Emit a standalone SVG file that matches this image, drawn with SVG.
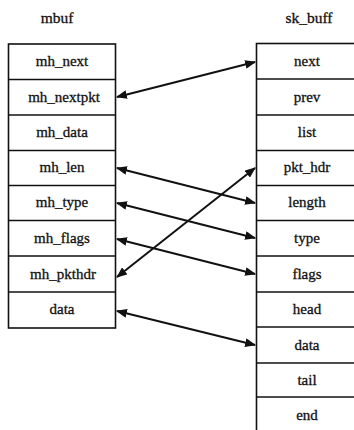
<svg xmlns="http://www.w3.org/2000/svg" width="354" height="430" viewBox="0 0 354 430">
<style>
.box{fill:none;stroke:#111;stroke-width:1.6}
.sep{stroke:#111;stroke-width:1.4}
.t{font-family:"Liberation Serif","Times New Roman",serif;font-size:15px;fill:#111;text-anchor:middle;stroke:#111;stroke-width:0.3}
.h{font-size:15.5px}
.c{stroke:#111;stroke-width:2;fill:none;marker-start:url(#ah);marker-end:url(#ah)}
</style>
<defs>
<marker id="ah" viewBox="0 0 10 8" refX="9" refY="4" markerWidth="5.5" markerHeight="4.4" orient="auto-start-reverse" markerUnits="strokeWidth">
<path d="M0,0 L10,4 L0,8 Z" fill="#111"/>
</marker>
</defs>
<rect width="354" height="430" fill="#fff"/>
<g id="titles">
<text class="t h" x="57" y="23">mbuf</text>
<text class="t h" x="309" y="23">sk_buff</text>
</g>
<g id="mbuf">
<rect class="box" x="8.5" y="44" width="107" height="284"/>
<line class="sep" x1="8.5" y1="79.5" x2="115.5" y2="79.5"/>
<line class="sep" x1="8.5" y1="115" x2="115.5" y2="115"/>
<line class="sep" x1="8.5" y1="150.5" x2="115.5" y2="150.5"/>
<line class="sep" x1="8.5" y1="185.5" x2="115.5" y2="185.5"/>
<line class="sep" x1="8.5" y1="220.5" x2="115.5" y2="220.5"/>
<line class="sep" x1="8.5" y1="256" x2="115.5" y2="256"/>
<line class="sep" x1="8.5" y1="292" x2="115.5" y2="292"/>
<text class="t" x="62" y="66">mh_next</text>
<text class="t" x="64" y="102">mh_nextpkt</text>
<text class="t" x="62" y="137">mh_data</text>
<text class="t" x="62" y="172">mh_len</text>
<text class="t" x="62" y="207">mh_type</text>
<text class="t" x="62" y="243">mh_flags</text>
<text class="t" x="63" y="279">mh_pkthdr</text>
<text class="t" x="62" y="314">data</text>
</g>
<g id="sk_buff">
<rect class="box" x="256.5" y="43.5" width="110" height="400"/>
<line class="sep" x1="256.5" y1="79" x2="366" y2="79"/>
<line class="sep" x1="256.5" y1="115" x2="366" y2="115"/>
<line class="sep" x1="256.5" y1="150.5" x2="366" y2="150.5"/>
<line class="sep" x1="256.5" y1="185.5" x2="366" y2="185.5"/>
<line class="sep" x1="256.5" y1="220.5" x2="366" y2="220.5"/>
<line class="sep" x1="256.5" y1="256" x2="366" y2="256"/>
<line class="sep" x1="256.5" y1="292" x2="366" y2="292"/>
<line class="sep" x1="256.5" y1="327" x2="366" y2="327"/>
<line class="sep" x1="256.5" y1="363" x2="366" y2="363"/>
<line class="sep" x1="256.5" y1="397" x2="366" y2="397"/>
<text class="t" x="307" y="66">next</text>
<text class="t" x="307" y="102">prev</text>
<text class="t" x="307" y="137">list</text>
<text class="t" x="307" y="172">pkt_hdr</text>
<text class="t" x="307" y="207">length</text>
<text class="t" x="307" y="243">type</text>
<text class="t" x="307" y="279">flags</text>
<text class="t" x="307" y="314">head</text>
<text class="t" x="307" y="350">data</text>
<text class="t" x="307" y="385">tail</text>
<text class="t" x="307" y="420">end</text>
</g>
<g id="connectors">
<line class="c" x1="117" y1="97" x2="255" y2="62"/>
<line class="c" x1="117" y1="168" x2="255" y2="203"/>
<line class="c" x1="117" y1="203" x2="255" y2="238"/>
<line class="c" x1="117" y1="239" x2="255" y2="274"/>
<line class="c" x1="117" y1="277" x2="255" y2="168"/>
<line class="c" x1="117" y1="311" x2="255" y2="345"/>
</g>
</svg>
